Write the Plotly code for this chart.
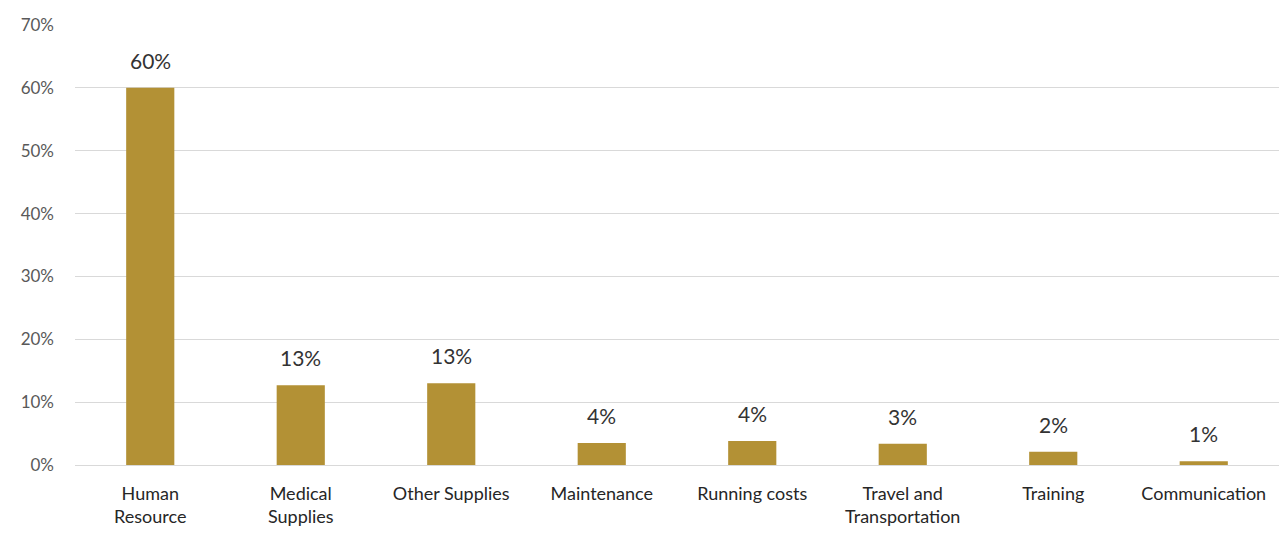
import plotly.graph_objects as go

categories = ["Human<br>Resource", "Medical<br>Supplies", "Other Supplies", "Maintenance",
              "Running costs", "Travel and<br>Transportation", "Training", "Communication"]
values = [0.600, 0.127, 0.130, 0.035, 0.038, 0.034, 0.021, 0.006]
tick_vals = [0, 0.1, 0.2, 0.3, 0.4, 0.5, 0.6, 0.7]
tick_text = ["0%", "10%", "20%", "30%", "40%", "50%", "60%", "70%"]

fig = go.Figure(go.Bar(
    x=categories, y=values,
    marker=dict(color="#B39135", line=dict(width=0)),
    hovertemplate="%{y:.0%}<extra></extra>",
))

for c, v in zip(categories, values):
    fig.add_annotation(x=c, y=v, text=f"{v:.0%}", showarrow=False,
                       yanchor="bottom", yshift=13,
                       font=dict(size=21, color="#333333", family="Lato"))

fig.update_layout(
    width=1284, height=535,
    margin=dict(l=75, r=5, t=25, b=70),
    paper_bgcolor="white", plot_bgcolor="white",
    bargap=0.68,
    showlegend=False,
    font=dict(family="Lato", size=18, color="#404040"),
)
fig.update_yaxes(range=[0, 0.7], tickvals=tick_vals, ticktext=tick_text,
                 showgrid=True, gridcolor="#D9D9D9", gridwidth=1,
                 zeroline=False, showline=False, ticks="",
                 tickfont=dict(size=17, color="#595959"), ticklabelstandoff=20)
fig.update_xaxes(showline=True, linecolor="#D9D9D9", linewidth=1, ticks="",
                 tickfont=dict(size=18, color="#262626"), ticklabelstandoff=12)

fig.write_html("out.html")
